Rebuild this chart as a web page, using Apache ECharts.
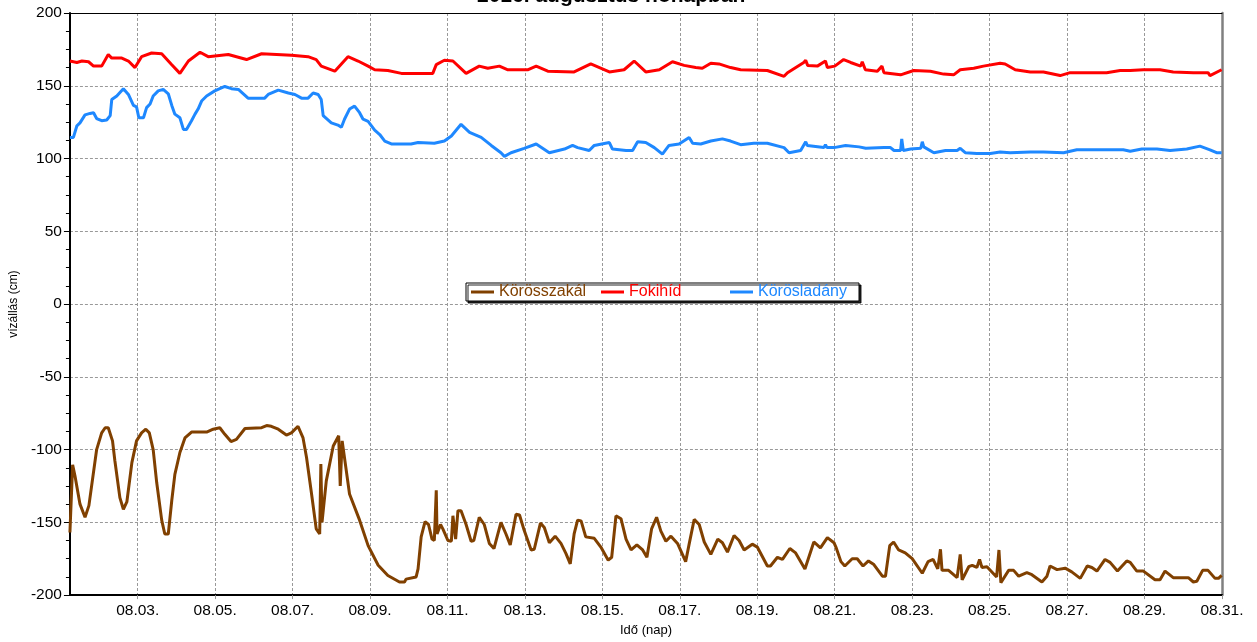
<!DOCTYPE html>
<html>
<head>
<meta charset="utf-8">
<script src="https://cdn.jsdelivr.net/npm/echarts@6/dist/echarts.min.js"></script>
<style>html,body{margin:0;padding:0;background:#fff}#c{width:1257px;height:642px}</style>
</head>
<body>
<div id="c"></div>
<script>
const titleText = '2016. augusztus hónapban';
const xAxisName = 'Idő (nap)';
const yAxisName = 'vízállás (cm)';
const seriesNames = ['Körösszakál', 'Fokihíd', 'Körösladány'];

// x positions are day-of-August (fractional); tick labels at odd days
const xTickDays = [3,5,7,9,11,13,15,17,19,21,23,25,27,29,31];
const xTickLabels = ['08.03.','08.05.','08.07.','08.09.','08.11.','08.13.','08.15.','08.17.','08.19.','08.21.','08.23.','08.25.','08.27.','08.29.','08.31.'];

// Körösszakál (brown)
const szakalDay = [
1.25,1.32,1.38,1.51,1.64,1.74,1.94,2.07,2.16,2.24,
2.35,2.41,2.54,2.63,2.72,2.85,2.97,3.10,3.21,3.30,
3.40,3.49,3.62,3.70,3.79,3.88,3.96,4.09,4.22,4.39,
4.78,4.95,5.12,5.25,5.41,5.55,5.77,6.20,6.33,6.45,
6.63,6.84,6.97,7.14,7.27,7.36,7.49,7.61,7.70,7.73,
7.76,7.87,8.05,8.19,8.23,8.28,8.47,8.73,8.95,9.21,
9.46,9.76,9.89,9.93,10.19,10.24,10.32,10.42,10.51,10.60,
10.66,10.71,10.73,10.82,10.88,11.01,11.10,11.14,11.21,11.27,
11.35,11.48,11.61,11.68,11.82,11.95,12.08,12.20,12.38,12.51,
12.62,12.77,12.86,12.98,13.16,13.24,13.40,13.50,13.63,13.78,
13.93,14.06,14.17,14.27,14.36,14.45,14.57,14.79,14.96,15.15,
15.24,15.35,15.48,15.61,15.74,15.89,16.04,16.15,16.27,16.40,
16.51,16.64,16.77,16.94,17.15,17.24,17.37,17.50,17.63,17.80,
17.98,18.10,18.23,18.40,18.53,18.66,18.87,19.00,19.26,19.34,
19.52,19.65,19.84,19.99,20.23,20.46,20.63,20.81,20.98,21.03,
21.16,21.26,21.45,21.58,21.73,21.87,22.01,22.23,22.31,22.42,
22.52,22.65,22.82,23.00,23.26,23.41,23.54,23.66,23.73,23.77,
23.94,24.16,24.24,24.29,24.46,24.55,24.67,24.74,24.80,24.93,
25.18,25.24,25.29,25.49,25.62,25.75,25.96,26.09,26.35,26.48,
26.56,26.74,26.95,27.12,27.34,27.52,27.64,27.77,27.98,28.11,
28.30,28.54,28.63,28.80,28.97,29.27,29.40,29.53,29.74,30.13,
30.26,30.35,30.50,30.64,30.82,30.91,30.99];
const szakalLevel = [
-157,-110.5,-118,-137.5,-146.5,-138.5,-100,-88.5,-85,-85,
-94,-107.5,-133,-141,-136,-109,-94,-88.5,-86,-88.5,
-100,-122.5,-148.5,-158,-158,-135,-117,-102,-92,-88,
-88,-86,-85,-89.5,-94.5,-93,-85.5,-85,-83.5,-84,
-86,-90,-88.5,-84,-92,-105.5,-130.5,-154.5,-158,-110,
-150,-121.5,-97.5,-90.5,-125,-94,-130.5,-148.5,-166,-179.5,
-186.5,-191,-191,-189,-187.5,-182,-160,-149.5,-151.5,-161.5,
-162.5,-128,-158,-151.5,-154.5,-162.5,-163,-145.5,-161.5,-142,
-142,-151.5,-163,-162.5,-146.5,-151.5,-164.5,-168,-150,-158,
-165.5,-144.5,-145,-155.5,-169,-168.5,-150.5,-153.5,-164,-159.5,
-164.5,-171.5,-178.5,-158,-148.5,-149,-160,-161,-167,-176,
-174,-145.5,-147.5,-161.5,-169,-165.5,-169,-174,-154.5,-146.5,
-156,-163,-159.5,-164.5,-177,-165,-148,-151.5,-163.5,-172,
-161.5,-164,-170.5,-159,-162.5,-169,-165,-167,-180,-180,
-174,-175.5,-168,-171,-182,-163.5,-167.5,-160.5,-164,-167,
-177,-180,-175,-175,-180,-176.5,-179,-187,-187,-166,
-163.5,-169,-171,-175,-185,-177,-175.5,-182,-168.5,-183,
-183,-188,-172,-189.5,-180.5,-179.5,-181,-175.5,-181,-180.5,
-187.5,-169,-191.5,-183,-183,-187,-184.5,-186,-191,-187,
-180,-182.5,-181.5,-184,-188.5,-180,-181,-183.5,-175.5,-177.5,
-183.5,-176.5,-177.5,-183.5,-183.5,-189.5,-189.5,-183.5,-188,-188,
-191,-190.5,-183,-183,-188.5,-188.5,-186.5];

// Fokihíd (red)
const fokiDay = [
1.25,1.43,1.56,1.73,1.86,2.07,2.24,2.33,2.59,2.76,
2.93,3.10,3.36,3.62,3.88,4.09,4.31,4.61,4.82,5.34,
5.81,6.20,6.97,7.40,7.61,7.74,8.09,8.43,8.69,8.95,
9.12,9.46,9.81,10.62,10.71,10.92,11.14,11.48,11.82,12.04,
12.34,12.56,13.07,13.29,13.59,14.27,14.70,15.18,15.56,15.82,
16.12,16.47,16.81,17.11,17.41,17.58,17.80,18.01,18.31,18.57,
19.26,19.69,19.78,20.20,20.25,20.30,20.55,20.76,20.81,21.00,
21.23,21.41,21.67,21.71,21.79,22.10,22.22,22.27,22.70,23.04,
23.47,23.81,24.07,24.24,24.59,24.84,25.27,25.40,25.66,26.05,
26.39,26.82,27.08,27.59,28.02,28.37,28.63,28.97,29.40,29.74,
30.26,30.64,30.69,30.99];
const fokiLevel = [
167,166,167,166.5,163.5,163.5,171.5,169,169,167,
162.5,170,172.5,172,164.5,158.5,167,173,170,171.5,
168,172,171,170,168,163.5,160,170,167,163.5,
161,160.5,158.5,158.5,164.5,167.5,167,158.5,163.5,162,
163.5,161,161,163.5,160,159.5,165,159.5,161,167,
159.5,161,166.5,164,162.5,162,165.5,165,162.5,161,
160.5,156.5,159,166,167.5,164,163.5,167,162.5,163.5,
168,166,163.5,166.5,161,160,163.5,159,157.5,160.5,
160,158,157.5,161,162,163.5,165.5,165,161,159.5,
159.5,157,159,159,159,160.5,160.5,161,161,159.5,
159,159,157,161];

// Körösladány (blue)
const ladanyDay = [
1.25,1.34,1.43,1.51,1.64,1.77,1.86,1.94,2.07,2.20,
2.29,2.33,2.46,2.63,2.76,2.89,2.97,3.03,3.15,3.23,
3.32,3.40,3.53,3.66,3.79,3.88,3.96,4.09,4.18,4.26,
4.39,4.48,4.56,4.65,4.78,4.99,5.25,5.42,5.60,5.85,
6.28,6.37,6.63,6.89,7.06,7.23,7.40,7.53,7.66,7.74,
7.79,8.00,8.17,8.26,8.34,8.47,8.60,8.73,8.82,8.95,
9.12,9.25,9.38,9.55,10.06,10.24,10.66,10.92,11.10,11.35,
11.57,11.87,12.13,12.38,12.47,12.64,12.98,13.29,13.63,14.02,
14.23,14.36,14.66,14.79,15.18,15.26,15.61,15.78,15.91,16.12,
16.34,16.55,16.72,16.98,17.24,17.33,17.54,17.80,18.10,18.31,
18.57,18.91,19.26,19.69,19.82,20.12,20.25,20.29,20.72,20.76,
20.80,20.98,21.28,21.63,21.80,22.27,22.44,22.53,22.70,22.73,
22.77,22.96,23.22,23.26,23.30,23.56,23.86,24.16,24.24,24.37,
24.67,25.02,25.27,25.53,26.05,26.39,26.91,27.25,27.68,28.02,
28.45,28.63,28.93,29.32,29.66,30.09,30.43,30.69,30.86,30.99];
const ladanyLevel = [
114.5,114.5,122.5,124.5,130,131,131.5,127.5,126,126.5,
129.5,140.5,143,148,144,136.5,135.5,128,128,135,
137.5,143,146.5,147.5,144.5,136.5,130.5,128,120,120,
126,130.5,134,139.5,143,146.5,149.5,148,147.5,141.5,
141.5,144,147,145,144,141.5,141.5,145,144,140.5,
129.5,124.5,123,121.5,127,134,136,131.5,127,125.5,
119.5,116.5,112,110,110,111,110.5,112,115.5,123.5,
118,114.5,109,104,101.5,104,107,110,104,106.5,
109,107.5,105.5,109,111,106.5,105.5,105.5,111.5,111,
107.5,103,109,110,114.5,110.5,110,112,113.5,112,
109.5,110.5,110.5,107.5,104,105.5,111.5,109,107.5,109.5,
107.5,107.5,109,108,107,107.5,107.5,105.5,105.5,113.5,
105.5,106.5,107,111.5,108,104,105.5,105.5,107,104,
103.5,103.5,104.5,104,104.5,104.5,104,106,106,106,
106,105,106.5,106.5,105.5,106.5,108.5,106,104,104];

const FONT = "'Liberation Sans', Arial, Helvetica, sans-serif";
const colors = ['#804000', '#FF0000', '#1E88FF'];

function pairs(d, v) {
  const n = Math.min(d.length, v.length);
  const out = [];
  for (let i = 0; i < n; i++) out.push([d[i], v[i]]);
  return out;
}

const chart = echarts.init(document.getElementById('c'), null, { renderer: 'canvas' });
const option = {
  animation: false,
  backgroundColor: '#fff',
  title: {
    text: titleText,
    left: 477, top: -14,
    padding: 0,
    textStyle: { fontFamily: FONT, fontSize: 21, fontWeight: 'bold', color: '#000' }
  },
  grid: { left: 68, right: 35, top: 13, bottom: 44, containLabel: false },
  legend: {
    left: 466, top: 283,
    orient: 'horizontal',
    icon: 'rect',
    itemWidth: 23, itemHeight: 3, itemGap: 0,
    padding: [1, 4, 1, 5],
    backgroundColor: '#fff',
    borderColor: '#000', borderWidth: 1, borderRadius: 0,
    shadowColor: 'rgba(0,0,0,0.85)', shadowOffsetX: 2, shadowOffsetY: 2, shadowBlur: 0,
    selectedMode: false,
    textStyle: { fontFamily: FONT, fontSize: 16, lineHeight: 16 },
    data: [
      { name: seriesNames[0], textStyle: { color: colors[0], width: 102 } },
      { name: seriesNames[1], textStyle: { color: colors[1], width: 101 } },
      { name: seriesNames[2], textStyle: { color: colors[2], width: 97 } }
    ]
  },
  xAxis: [{
    type: 'value', min: 1.25, max: 31, position: 'bottom',
    name: xAxisName, nameLocation: 'middle', nameGap: 20,
    nameTextStyle: { fontFamily: FONT, fontSize: 13, color: '#000' },
    axisLine: { show: true, onZero: false, lineStyle: { color: '#000', width: 2 } },
    axisTick: { show: true, customValues: xTickDays, length: 4, lineStyle: { color: '#999' } },
    axisLabel: {
      customValues: xTickDays, margin: 8,
      fontFamily: FONT, fontSize: 15.5, color: '#000',
      formatter: function (v) { const i = xTickDays.indexOf(Math.round(v)); return i >= 0 ? xTickLabels[i] : ''; }
    },
    splitLine: { show: true, customValues: xTickDays, lineStyle: { type: [3, 2], color: '#999', width: 1 } }
  }, {
    type: 'value', min: 0, max: 1, position: 'top',
    axisLine: { show: true, onZero: false, lineStyle: { color: '#000', width: 1 } },
    axisTick: { show: false }, axisLabel: { show: false }, splitLine: { show: false }
  }],
  yAxis: [{
    type: 'value', min: -200, max: 200, interval: 50, position: 'left',
    name: yAxisName, nameLocation: 'middle', nameGap: 46,
    nameTextStyle: { fontFamily: FONT, fontSize: 12, color: '#000' },
    axisLine: { show: true, onZero: false, lineStyle: { color: '#000', width: 2 } },
    axisTick: { show: true, length: 6, lineStyle: { color: '#000' } },
    minorTick: { show: true, splitNumber: 4, length: 4, lineStyle: { color: '#000' } },
    axisLabel: { margin: 8, fontFamily: FONT, fontSize: 15.5, color: '#000' },
    splitLine: { show: true, lineStyle: { type: [3, 2], color: '#999', width: 1 } }
  }, {
    type: 'value', min: 0, max: 1, position: 'right',
    axisLine: { show: true, onZero: false, lineStyle: { color: '#808080', width: 2.5 } },
    axisTick: { show: false }, axisLabel: { show: false }, splitLine: { show: false }
  }],
  series: [
    { name: seriesNames[0], type: 'line', xAxisIndex: 0, yAxisIndex: 0, data: pairs(szakalDay, szakalLevel),
      symbol: 'none', showSymbol: false, lineStyle: { color: colors[0], width: 3 }, itemStyle: { color: colors[0] }, z: 3 },
    { name: seriesNames[1], type: 'line', xAxisIndex: 0, yAxisIndex: 0, data: pairs(fokiDay, fokiLevel),
      symbol: 'none', showSymbol: false, lineStyle: { color: colors[1], width: 3 }, itemStyle: { color: colors[1] }, z: 4 },
    { name: seriesNames[2], type: 'line', xAxisIndex: 0, yAxisIndex: 0, data: pairs(ladanyDay, ladanyLevel),
      symbol: 'none', showSymbol: false, lineStyle: { color: colors[2], width: 3 }, itemStyle: { color: colors[2] }, z: 5 }
  ]
};
chart.setOption(option);
</script>
</body>
</html>
